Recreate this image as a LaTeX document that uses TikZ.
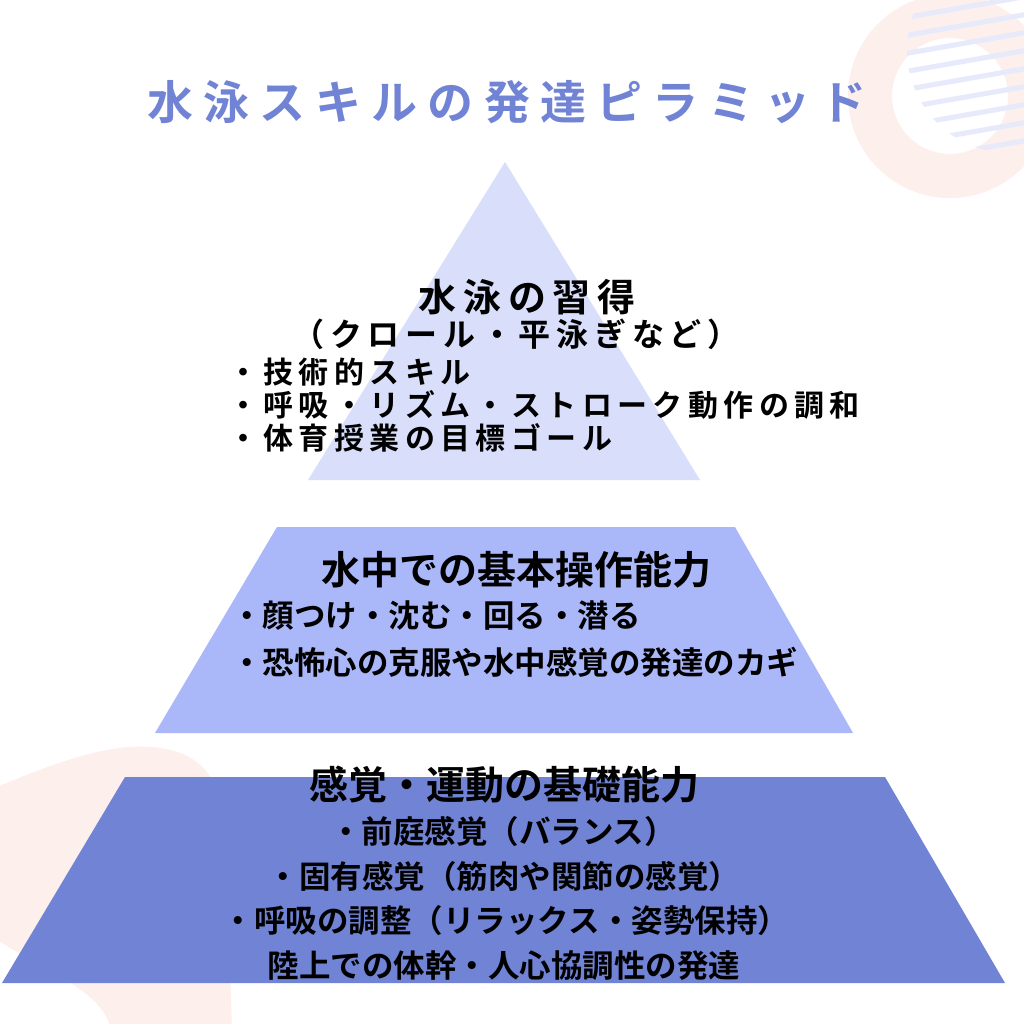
\documentclass[tikz,border=0pt]{standalone}
\usepackage{fontspec}
\newfontfamily\jp{Noto Sans CJK JP Bold}
\newfontfamily\jpsp{Noto Sans CJK JP Bold}[LetterSpace=18]
\newfontfamily\jptitle{Noto Sans CJK JP Bold}[LetterSpace=22]
\definecolor{tierA}{HTML}{D9DFFB}
\definecolor{tierB}{HTML}{AAB8FA}
\definecolor{tierC}{HTML}{7083D5}
\definecolor{blush}{HTML}{FCEFEC}
\definecolor{stripe}{HTML}{E6EAFB}

\begin{document}
\begin{tikzpicture}[x=1pt,y=-1pt,
  txt/.style={inner sep=0pt,font=\jp\fontsize{31.5}{31.5}\selectfont},
  head/.style={inner sep=0pt,font=\jp\fontsize{39}{39}\selectfont},
  spaced/.style={inner sep=0pt,font=\jpsp\fontsize{#1}{#1}\selectfont}]
  \useasboundingbox (0,0) rectangle (1024,1024);
  \fill[white] (0,0) rectangle (1024,1024);
  % decorations
  \fill[blush,even odd rule] (950,96) circle[radius=102] (950,96) circle[radius=58];
  \begin{scope}
    \clip (1010,50) circle[radius=103];
    \foreach \k in {0,...,9}
      \draw[stripe,line width=5pt] (880,{22+18*\k}) -- (1040,{-6+18*\k});
  \end{scope}
  \fill[blush] (-10,790) .. controls (60,760) and (110,744) .. (150,747)
    .. controls (200,750) and (222,778) .. (226,830) -- (232,1034) -- (112,1034)
    .. controls (105,990) and (50,975) .. (-10,935) -- cycle;
  %
  \fill[tierA] (505,162) -- (700,480) -- (308,480) -- cycle;
  \fill[tierB] (277,527) -- (735,527) -- (853,733) -- (155,733) -- cycle;
  \fill[tierC] (125,777) -- (885,777) -- (1005,983) -- (2,983) -- cycle;
  %
  \node[inner sep=0pt,font=\jptitle\fontsize{46}{46}\selectfont,text=tierC] (title) at (507,102) {水泳スキルの発達ピラミッド};
  %
  \node[spaced=38] (swim) at (527,297) {水泳の習得};
  \node[spaced=32] (stroke) at (516,334) {（クロール・平泳ぎなど）};
  \node[spaced=30,anchor=west] (tech) at (228,372) {・技術的スキル};
  \node[spaced=30,anchor=west] (rhythm) at (228,405) {・呼吸・リズム・ストローク動作の調和};
  \node[spaced=30,anchor=west] (goal) at (228,438) {・体育授業の目標ゴール};
  %
  \node[head] (water) at (516,570) {水中での基本操作能力};
  \node[txt,anchor=west] (dive) at (231,616) {・顔つけ・沈む・回る・潜る};
  \node[txt,anchor=west] (fear) at (231,662) {・恐怖心の克服や水中感覚の発達のカギ};
  %
  \node[head] (sense) at (504,785) {感覚・運動の基礎能力};
  \node[txt] (vest) at (503,832) {・前庭感覚（バランス）};
  \node[txt] (prop) at (504,877) {・固有感覚（筋肉や関節の感覚）};
  \node[txt] (breath) at (506,921) {・呼吸の調整（リラックス・姿勢保持）};
  \node[txt] (land) at (504,966) {陸上での体幹・人心協調性の発達};
\end{tikzpicture}
\end{document}
